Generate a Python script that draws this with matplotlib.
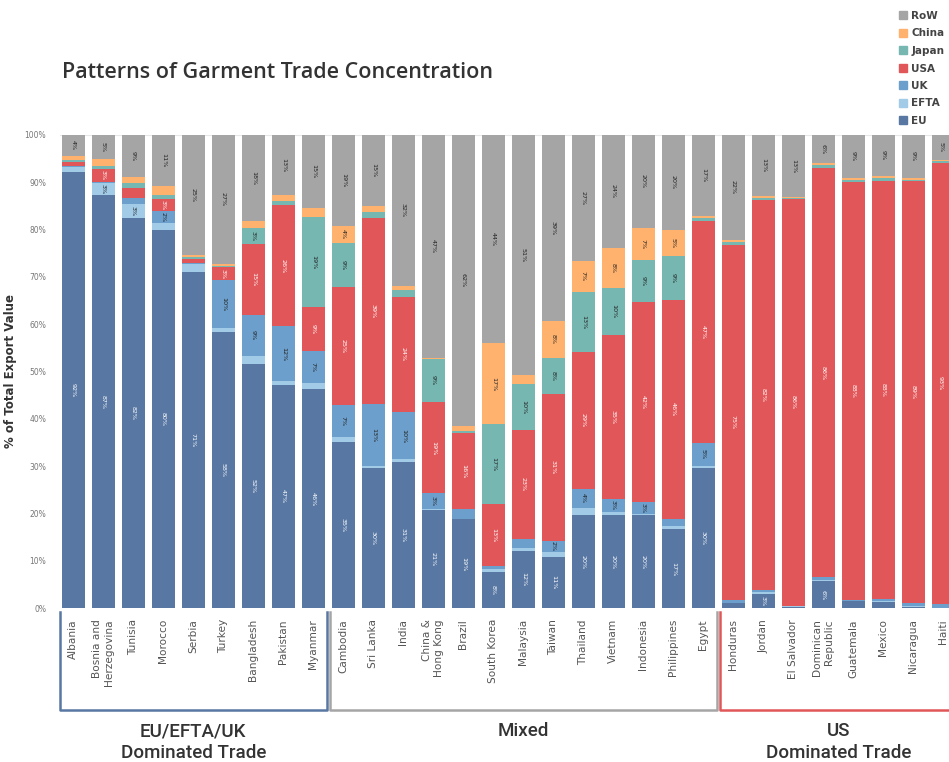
import matplotlib
matplotlib.use("Agg")
import matplotlib.pyplot as plt
from matplotlib.patches import Patch
import matplotlib.transforms as mtransforms

# ------ DATA -------
countries = ["Albania", "Bosnia and\nHerzegovina", "Tunisia", "Morocco", "Serbia",
             "Turkey", "Bangladesh", "Pakistan", "Myanmar",
             "Cambodia", "Sri Lanka", "India", "China &\nHong Kong", "Brazil",
             "South Korea", "Malaysia", "Taiwan", "Thailand", "Vietnam",
             "Indonesia", "Philippines", "Egypt",
             "Honduras", "Jordan", "El Salvador", "Dominican\nRepublic",
             "Guatemala", "Mexico", "Nicaragua", "Haiti"]

# share of total export value (%) by destination, bottom to top
EU    = [92.2, 87.2, 82.4, 79.8, 70.9, 58.3, 51.6, 47.2, 46.2,
         35.1, 29.6, 30.9, 20.7, 18.7, 7.6, 12.1, 10.7, 19.6, 19.6, 19.6, 16.6, 29.6,
         1.0, 3.0, 0.3, 5.6, 1.4, 1.3, 0.3, 0.05]
EFTA  = [0.9, 2.7, 3.0, 1.5, 1.8, 0.8, 1.7, 0.7, 1.3,
         1.0, 0.5, 0.5, 0.3, 0.2, 0.6, 0.5, 1.2, 1.6, 0.7, 0.3, 0.7, 0.5,
         0.1, 0.3, 0.05, 0.3, 0.1, 0.1, 0.1, 0.05]
UK    = [0.3, 0.2, 1.3, 2.5, 0.1, 10.1, 8.6, 11.6, 6.7,
         6.7, 13.0, 10.0, 3.2, 2.0, 0.7, 1.9, 2.3, 4.0, 2.7, 2.6, 1.5, 4.7,
         0.6, 0.5, 0.1, 0.6, 0.1, 0.4, 0.6, 0.7]
USA   = [0.9, 2.7, 2.0, 2.6, 1.0, 2.8, 15.1, 25.6, 9.3,
         25.1, 39.4, 24.4, 19.3, 16.0, 13.0, 23.2, 31.0, 28.8, 34.7, 42.2, 46.3, 47.0,
         75.1, 82.3, 86.0, 86.4, 88.4, 88.4, 89.2, 93.3]
Japan = [0.4, 0.6, 1.1, 0.8, 0.3, 0.3, 3.2, 0.9, 19.2,
         9.2, 1.1, 1.4, 9.1, 0.6, 16.9, 9.6, 7.7, 12.7, 10.0, 8.8, 9.3, 0.6,
         0.6, 0.5, 0.2, 0.7, 0.4, 0.7, 0.3, 0.3]
China = [0.9, 1.5, 1.3, 1.9, 0.5, 0.4, 1.6, 1.2, 1.9,
         3.7, 1.4, 0.8, 0.2, 1.0, 17.2, 1.9, 7.7, 6.7, 8.3, 6.7, 5.4, 0.5,
         0.3, 0.4, 0.25, 0.4, 0.4, 0.4, 0.3, 0.3]
RoW   = [4.4, 5.2, 8.9, 11.0, 25.4, 27.3, 18.2, 12.8, 15.4,
         19.2, 15.0, 32.0, 47.2, 61.5, 44.0, 50.8, 39.4, 26.6, 24.0, 19.8, 20.2, 17.1,
         22.3, 13.0, 13.1, 6.0, 9.2, 8.7, 9.2, 5.3]

series = [("EU", EU), ("EFTA", EFTA), ("UK", UK), ("USA", USA),
          ("Japan", Japan), ("China", China), ("RoW", RoW)]
colors = {"EU": "#5877a3", "EFTA": "#a2cbe8", "UK": "#6c9fcb", "USA": "#e15759",
          "Japan": "#76b7b2", "China": "#ffb26e", "RoW": "#a5a5a5"}
label_colors = {"EU": "white", "USA": "white"}

groups = [("EU/EFTA/UK", "Dominated Trade", 0, 8, "#5877a3"),
          ("Mixed", "", 9, 21, "#a5a5a5"),
          ("US", "Dominated Trade", 22, 29, "#e15759")]

# ------ PLOT -------
fig = plt.figure(figsize=(9.49, 7.62), dpi=100)
ax = fig.add_axes([60 / 949, 1 - 608 / 762, 889 / 949, 473.3 / 762])

x = list(range(len(countries)))
bottom = [0.0] * len(countries)
for name, vals in series:
    bars = ax.bar(x, vals, width=0.75, bottom=bottom, color=colors[name], linewidth=0)
    labels = [f"{v:.0f}%" if v >= 2.2 else "" for v in vals]
    ax.bar_label(bars, labels=labels, label_type="center", rotation=-90,
                 fontsize=4.6, color=label_colors.get(name, "#222222"))
    bottom = [b + v for b, v in zip(bottom, vals)]

ax.set_xlim(-0.443, 29.19)
ax.set_ylim(0, 100)
ax.axhline(100, color="#e6e6e6", lw=0.8, zorder=0)
ax.set_yticks(range(0, 101, 10))
ax.set_yticklabels([f"{t}%" for t in range(0, 101, 10)], fontsize=5.5, color="#777777")
ax.set_xticks(x)
ax.set_xticklabels(countries, rotation=90, fontsize=7.6, color="#555555",
                   va="top", ha="center", multialignment="right")
ax.tick_params(axis="both", length=0)
ax.tick_params(axis="y", pad=10)
ax.tick_params(axis="x", pad=8)
for s in ax.spines.values():
    s.set_visible(False)
ax.set_ylabel("% of Total Export Value", fontsize=8.5, fontweight="bold",
              color="#333333", labelpad=4)
ax.yaxis.set_label_coords(-0.048, 0.5)

# group brackets under the tick labels
trans = mtransforms.blended_transform_factory(ax.transData, ax.transAxes)
for line1, line2, i0, i1, col in groups:
    left, right = i0 - 0.45, i1 + 0.45
    ax.plot([left, left, right, right], [-0.008, -0.216, -0.216, -0.008],
            color=col, lw=1.8, transform=trans, clip_on=False)
    xc = (i0 + i1) / 2
    ax.text(xc, (608 - 731) / 473.3, line1, transform=trans, ha="center", va="center",
            fontsize=13.5, family="Roboto", fontweight="medium", color="#333333")
    if line2:
        ax.text(xc, (608 - 753) / 473.3, line2, transform=trans, ha="center",
                va="center", fontsize=13.5, family="Roboto", fontweight="medium",
                color="#333333")

fig.text(62 / 949, 1 - 72 / 762, "Patterns of Garment Trade Concentration",
         fontsize=15.5, fontweight="semibold", family="Open Sans",
         color="#333333", va="center")

handles = [Patch(color=colors[n], label=n) for n, _ in reversed(series)]
leg = fig.legend(handles=handles, loc="upper left", bbox_to_anchor=(899 / 949, 1 - 11 / 762),
                 frameon=False, fontsize=7.5, handlelength=0.8, handleheight=0.8,
                 handletextpad=0.4, labelspacing=0.72, borderpad=0, borderaxespad=0)
for t in leg.get_texts():
    t.set_color("#444444")
    t.set_fontweight("bold")

fig.savefig("out.png", dpi=100)
